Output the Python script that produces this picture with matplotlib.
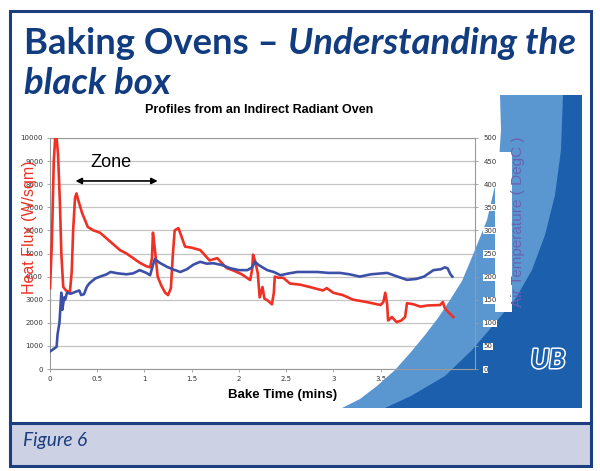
import numpy as np
import matplotlib.pyplot as plt
from matplotlib.patches import Polygon, Rectangle
from matplotlib.lines import Line2D
import matplotlib.patheffects as pe

# ---- data ----
flux_t = [0, 0.02, 0.04, 0.055, 0.07, 0.085, 0.105, 0.12, 0.14, 0.17, 0.21, 0.23,
          0.245, 0.265, 0.28, 0.30, 0.34, 0.40, 0.46, 0.53, 0.60, 0.67, 0.74, 0.81,
          0.88, 0.95, 1.02, 1.06, 1.08, 1.09, 1.11, 1.14, 1.18, 1.22, 1.25, 1.28,
          1.30, 1.32, 1.36, 1.43, 1.50, 1.59, 1.69, 1.77, 1.87, 1.95, 2.03, 2.12,
          2.14, 2.15, 2.17, 2.20, 2.22, 2.25, 2.27, 2.31, 2.35, 2.37, 2.38, 2.42,
          2.47, 2.54, 2.65, 2.75, 2.89, 2.93, 3.0, 3.1, 3.21, 3.35, 3.5, 3.53,
          3.55, 3.57, 3.58, 3.62, 3.67, 3.72, 3.76, 3.78, 3.85, 3.92, 4.0, 4.13,
          4.16, 4.18, 4.22, 4.27]
flux_w = [3500, 5500, 9000, 10000, 10000, 9300, 7200, 5000, 3550, 3400, 3300, 4200,
          6000, 7400, 7600, 7300, 6750, 6150, 6000, 5900, 5650, 5400, 5150, 5000,
          4800, 4600, 4450, 4400, 4800, 5900, 5200, 4000, 3600, 3300, 3200, 3500,
          4900, 6000, 6100, 5300, 5250, 5150, 4700, 4800, 4370, 4250, 4100, 3850,
          4300, 4950, 4700, 4150, 3100, 3550, 3050, 2950, 2800, 3300, 4000, 3950,
          3950, 3700, 3650, 3550, 3400, 3500, 3300, 3200, 3000, 2900, 2770, 2900,
          3300, 2800, 2100, 2250, 2030, 2100, 2250, 2850, 2800, 2700, 2750, 2770,
          2900, 2640, 2450, 2250]

temp_t = [0, 0.05, 0.07, 0.08, 0.10, 0.12, 0.13, 0.15, 0.16, 0.18, 0.22, 0.27,
          0.31, 0.33, 0.36, 0.39, 0.42, 0.48, 0.53, 0.60, 0.64, 0.72, 0.81, 0.88,
          0.95, 1.02, 1.06, 1.09, 1.11, 1.16, 1.24, 1.31, 1.38, 1.45, 1.52, 1.59,
          1.66, 1.73, 1.82, 1.91, 2.00, 2.09, 2.14, 2.17, 2.21, 2.30, 2.37, 2.44,
          2.53, 2.62, 2.72, 2.83, 2.95, 3.07, 3.17, 3.28, 3.40, 3.57, 3.68, 3.78,
          3.88, 3.96, 4.06, 4.14, 4.18, 4.21, 4.24, 4.26]
temp_c = [38, 45, 48, 75, 100, 165, 128, 155, 150, 165, 163, 167,
          170, 160, 162, 178, 186, 196, 200, 205, 210, 207, 205, 207,
          214, 208, 203, 225, 238, 230, 221, 215, 210, 216, 226, 232,
          228, 229, 225, 218, 214, 214, 220, 232, 225, 214, 210, 203,
          207, 210, 210, 210, 208, 208, 205, 200, 205, 208, 200, 193,
          195, 200, 214, 216, 220, 218, 205, 200]

x_ticks = [0, 0.5, 1, 1.5, 2, 2.5, 3, 3.5, 4, 4.5]
flux_ticks = list(range(0, 10001, 1000))
temp_ticks = list(range(0, 501, 50))

# ---- colours ----
NAVY = "#123c80"
FRAME = "#1c3d7e"
LIGHT = "#5a96cf"
DARK = "#1b5fad"
BAND = "#cdd1e4"
RED = "#ee3124"
BLUE = "#3d50a8"

W, H = 600, 471
fig = plt.figure(figsize=(6, 4.71), dpi=100)


def fp(x, y):
    # pixel position (y down) -> figure fraction
    return (x / W, 1 - y / H)


# =========================
# AXES
# =========================
ax = fig.add_axes([50 / W, 1 - 369 / H, 425 / W, 231 / H])
ax.set_xlim(0, 4.5)
ax.set_ylim(0, 10000)
ax.set_xticks(x_ticks)
ax.set_xticklabels([f"{v:g}" for v in x_ticks])
ax.set_yticks(flux_ticks)
ax.set_axisbelow(True)
ax.grid(axis="y", color="#c4c4c4", lw=0.9)
for s in ax.spines.values():
    s.set_color("#9a9a9a")
    s.set_linewidth(0.8)
ax.tick_params(labelsize=5, colors="#9a9a9a", labelcolor="#333333",
               length=2, width=0.6, pad=3)

# decorative background shapes (drawn inside the axes so that lines stay on top)
outer = [(500, 95), (501, 130), (499, 160), (494, 190), (487, 220), (479, 240),
         (470, 262), (462, 281), (450, 300), (438, 318), (425, 335), (411, 352),
         (395, 370), (377, 386), (360, 399), (342, 408), (582, 408), (582, 95)]
inner = [(563, 95), (561, 150), (555, 195), (545, 235), (532, 270), (516, 298),
         (496, 322), (472, 350), (445, 376), (411, 396), (385, 408), (582, 408),
         (582, 95)]
ax.add_patch(Polygon([fp(*p) for p in outer], closed=True, transform=fig.transFigure,
                     facecolor=LIGHT, edgecolor="none", clip_on=False, zorder=1))
ax.add_patch(Polygon([fp(*p) for p in inner], closed=True, transform=fig.transFigure,
                     facecolor=DARK, edgecolor="none", clip_on=False, zorder=1.1))
ax.add_patch(Rectangle(fp(495, 312), 17 / W, 160 / H, transform=fig.transFigure,
                       facecolor="white", edgecolor="none", clip_on=False, zorder=1.2))

ax.plot(flux_t, flux_w, color=RED, lw=1.9, zorder=3)

ax2 = ax.twinx()
ax2.set_ylim(0, 500)
ax2.set_yticks(temp_ticks)
ax2.plot(temp_t, temp_c, color=BLUE, lw=1.9, zorder=3)
for s in ax2.spines.values():
    s.set_visible(False)
ax2.tick_params(labelsize=5, colors="#9a9a9a", labelcolor="#333333",
                length=2, width=0.6, pad=4)
for lab in ax2.get_yticklabels():
    lab.set_bbox(dict(facecolor="white", edgecolor="none", pad=0.4))

# zone marker
ax.text(0.43, 8745, "Zone", fontsize=13, family="Liberation Sans", va="baseline")
ax.annotate("", xy=(1.14, 8140), xytext=(0.27, 8140),
            arrowprops=dict(arrowstyle="<|-|>", color="black", lw=1.2,
                            mutation_scale=9, shrinkA=0, shrinkB=0))

ax.set_xlabel("Bake Time (mins)", fontsize=9.5, weight="bold",
              family="Liberation Sans")
ax.xaxis.set_label_coords(0.548, -0.085)

fig.text(*fp(30, 227), "Heat Flux (W/sqm)", rotation=90, ha="center", va="center",
         color=RED, fontsize=11.5, family="Liberation Sans")
fig.text(*fp(518, 222), "Air Temperature ( DegC )", rotation=90, ha="center",
         va="center", color="#6a62b4", fontsize=11, family="Liberation Sans")
fig.text(*fp(259, 110), "Profiles from an Indirect Radiant Oven", ha="center",
         va="center", fontsize=9, weight="bold", family="Liberation Sans")

# UB logo
fig.text(*fp(548, 360), "UB", ha="center", va="center", fontsize=19,
         weight="bold", style="italic", family="Lato", color=DARK,
         path_effects=[pe.withStroke(linewidth=2.2, foreground="white")])

# =========================
# PAGE FRAME AND CAPTION
# =========================
fig.add_artist(Rectangle(fp(9.5, 466), 581.5 / W, 43 / H, transform=fig.transFigure,
                         facecolor=BAND, edgecolor="none", zorder=0.5))
fig.add_artist(Rectangle(fp(9.5, 466), 581.5 / W, 455 / H, transform=fig.transFigure,
                         facecolor="none", edgecolor=FRAME, lw=2.2, zorder=5))
fig.add_artist(Line2D([9.5 / W, 591 / W], [1 - 423 / H, 1 - 423 / H],
                      transform=fig.transFigure, color=FRAME, lw=2.2, zorder=5))
fig.text(*fp(23, 446), "Figure 6", fontsize=13.8, style="italic", family="Lato",
         color=FRAME, va="baseline")

# =========================
# TITLE (fit width of first line)
# =========================
renderer = fig.canvas.get_renderer()
size = 26
t1 = fig.text(*fp(24, 54), "Baking Ovens – ", fontsize=size, weight="bold",
              family="Lato", color=NAVY, va="baseline")
t2 = fig.text(*fp(24, 54), "Understanding the", fontsize=size, weight="bold",
              style="italic", family="Lato", color=NAVY, va="baseline")
w1 = t1.get_window_extent(renderer).width
w2 = t2.get_window_extent(renderer).width
size = size * 551 / (w1 + w2)
t1.set_fontsize(size)
t2.set_fontsize(size)
w1 = t1.get_window_extent(renderer).width
t2.set_x((24 + w1) / W)
fig.text(*fp(24, 94), "black box", fontsize=size, weight="bold", style="italic",
         family="Lato", color=NAVY, va="baseline")

fig.savefig("out.png", dpi=100)
